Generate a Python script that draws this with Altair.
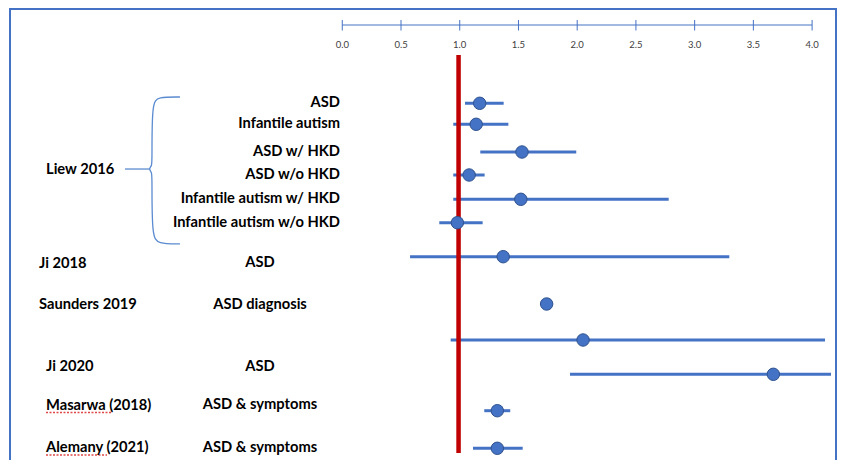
import altair as alt
import pandas as pd

# ---- data ----
row_ids = list(range(12))
estimates = [1.17, 1.14, 1.53, 1.08, 1.52, 0.98, 1.37, 1.74, 2.05, 3.67, 1.32, 1.32]
ci_low = [1.045, 0.945, 1.175, 0.945, 0.945, 0.826, 0.577, None, 0.923, 1.939, 1.209, 1.113]
ci_high = [1.374, 1.414, 1.992, 1.212, 2.779, 1.195, 3.295, None, 4.110, 4.161, 1.430, 1.536]

liew_labels = ["ASD", "Infantile autism", "ASD w/ HKD", "ASD w/o HKD",
               "Infantile autism w/ HKD", "Infantile autism w/o HKD"]
liew_rows = [0, 1, 2, 3, 4, 5]

study_labels_a = ["Ji 2018", "Saunders 2019"]
study_rows_a = [6.15, 7.02]
study_labels_b = ["Liew 2016", "Ji 2020", "Masarwa (2018)", "Alemany (2021)"]
study_rows_b = [2.78, 8.8, 9.87, 10.98]

outcome_labels = ["ASD", "ASD diagnosis", "ASD", "ASD & symptoms", "ASD & symptoms"]
outcome_rows = [6.13, 7.03, 8.8, 9.85, 10.98]

tick_values = [0.0, 0.5, 1.0, 1.5, 2.0, 2.5, 3.0, 3.5, 4.0]
null_value = [0.99]

# brace outline (x in axis units, y in row units)
brace_x = [-1.382, -1.57, -1.620, -1.620, -1.620, -1.650, -1.620, -1.620, -1.620, -1.57, -1.382]
brace_y = [-0.30, -0.30, -0.02, 2.30, 2.60, 2.74, 2.88, 3.20, 5.40, 5.62, 5.62]
stub_x = [-1.850, -1.640]
stub_y = [2.74, 2.74]

# ---- tables ----
df = pd.DataFrame({"row": row_ids, "est": estimates, "lo": ci_low, "hi": ci_high})
liew_df = pd.DataFrame({"label": liew_labels, "row": liew_rows})
sa_df = pd.DataFrame({"label": study_labels_a, "row": study_rows_a})
sb_df = pd.DataFrame({"label": study_labels_b, "row": study_rows_b})
out_df = pd.DataFrame({"label": outcome_labels, "row": outcome_rows})
ticks_df = pd.DataFrame({"v": tick_values})
brace_df = pd.DataFrame({"x": brace_x, "y": brace_y, "i": list(range(len(brace_x)))})
stub_df = pd.DataFrame({"x": stub_x, "y": stub_y, "i": [0, 1]})
null_df = pd.DataFrame({"v": null_value})
axis_df = pd.DataFrame({"a": [tick_values[0]], "b": [tick_values[-1]]})

W, H = 829, 452
BLUE = "#4472C4"
FONT = "Lato"

xs = alt.Scale(domain=[-2.846, 4.212], nice=False, zero=False)
ys = alt.Scale(domain=row_ids,
               range=[95.3, 116.3, 144, 167, 191.3, 214.7, 248.7, 296, 332, 366.3, 402.7, 440.3],
               nice=False, zero=False)

X = lambda f: alt.X(f, type="quantitative", scale=xs, axis=None)
Y = lambda f: alt.Y(f, type="quantitative", scale=ys, axis=None)

# frame
frame_top = alt.Chart(null_df).mark_rule(color=BLUE, strokeWidth=2).encode(
    x=alt.value(2), x2=alt.value(828), y=alt.value(1))
frame_left = alt.Chart(null_df).mark_rule(color=BLUE, strokeWidth=2).encode(
    x=alt.value(2), y=alt.value(0), y2=alt.value(H))
frame_right = alt.Chart(null_df).mark_rule(color=BLUE, strokeWidth=2).encode(
    x=alt.value(828), y=alt.value(0), y2=alt.value(H))

# hand-drawn axis at top
axis_line = alt.Chart(axis_df).mark_rule(color=BLUE, strokeWidth=1).encode(
    x=X("a"), x2="b", y=alt.value(17))
axis_ticks = alt.Chart(ticks_df).mark_rule(color=BLUE, strokeWidth=1).encode(
    x=X("v"), y=alt.value(12), y2=alt.value(22.5))
axis_labels = alt.Chart(ticks_df).mark_text(
    font=FONT, fontSize=9.5, color="#404040", baseline="middle", align="center").encode(
    x=X("v"), y=alt.value(37), text=alt.Text("v:Q", format=".1f"))

# reference line
null_line = alt.Chart(null_df).mark_rule(color="#C00000", strokeWidth=4.5).encode(
    x=X("v"), y=alt.value(47), y2=alt.value(445))

# CIs and points
ci = alt.Chart(df).transform_filter("isValid(datum.lo)").mark_rule(
    color=BLUE, strokeWidth=3).encode(x=X("lo"), x2="hi", y=Y("row"))
pts = alt.Chart(df).mark_circle(
    size=155, color=BLUE, opacity=1, stroke="#2F528F", strokeWidth=1).encode(
    x=X("est"), y=Y("row"))

# brace
brace = alt.Chart(brace_df).mark_line(color="#5B8BD0", strokeWidth=1.3, interpolate="basis").encode(
    x=X("x"), y=Y("y"), order="i:Q")
stub = alt.Chart(stub_df).mark_line(color="#5B8BD0", strokeWidth=1.3).encode(
    x=X("x"), y=Y("y"), order="i:Q")

# spell-check style underlines (decoration)
sq1 = alt.Chart(null_df).mark_rule(color="#E04848", strokeWidth=1.5, strokeDash=[2, 1.5]).encode(
    x=alt.value(38), x2=alt.value(103), y=alt.value(404.5))
sq2 = alt.Chart(null_df).mark_rule(color="#E04848", strokeWidth=1.5, strokeDash=[2, 1.5]).encode(
    x=alt.value(38), x2=alt.value(99), y=alt.value(447))

# labels
txt = dict(font=FONT, fontSize=14.7, fontWeight="bold", color="#000000", baseline="middle")
liew_txt = alt.Chart(liew_df).mark_text(align="right", **txt).encode(
    x=alt.value(332), y=Y("row"), text="label:N")
sa_txt = alt.Chart(sa_df).mark_text(align="left", **txt).encode(
    x=alt.value(31), y=Y("row"), text="label:N")
sb_txt = alt.Chart(sb_df).mark_text(align="left", **txt).encode(
    x=alt.value(38), y=Y("row"), text="label:N")
out_txt = alt.Chart(out_df).mark_text(align="center", **txt).encode(
    x=alt.value(252), y=Y("row"), text="label:N")

chart = alt.layer(
    frame_top, frame_left, frame_right,
    axis_line, axis_ticks, axis_labels,
    brace, stub, sq1, sq2,
    ci, null_line, pts,
    liew_txt, sa_txt, sb_txt, out_txt,
).properties(
    width=W, height=H, autosize=alt.AutoSizeParams(type="none"), padding=0
).configure_view(stroke=None)

chart.save("out.html", embed_options={"renderer": "svg", "actions": False})
